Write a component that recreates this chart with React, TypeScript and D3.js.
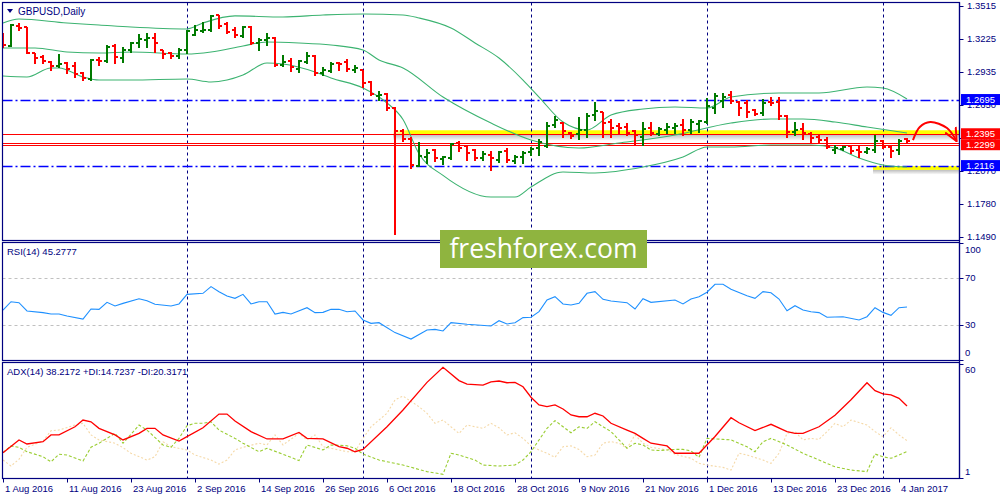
import React from "react";
import * as d3 from "d3";

// daily bars, 1 Aug 2016 .. 5 Jan 2017
const opens = [
  1.3270, 1.3165, 1.3340, 1.3331, 1.3103, 1.3068, 1.3024, 1.2989, 1.3015, 1.2989,
  1.2928, 1.2875, 1.3042, 1.3033, 1.3165, 1.3059, 1.3129, 1.3191, 1.3217, 1.3235,
  1.3129, 1.3103, 1.3077, 1.3129, 1.3261, 1.3296, 1.3305, 1.3436, 1.3358, 1.3305,
  1.3252, 1.3331, 1.3191, 1.3217, 1.3235, 1.2998, 1.3033, 1.2963, 1.3024, 1.3077,
  1.2928, 1.2945, 1.3015, 1.3024, 1.2954, 1.2954, 1.2849, 1.2726, 1.2744, 1.2621,
  1.2419, 1.2349, 1.2112, 1.2191, 1.2252, 1.2174, 1.2182, 1.2314, 1.2288, 1.2252,
  1.2182, 1.2209, 1.2165, 1.2244, 1.2156, 1.2191, 1.2235, 1.2270, 1.2288, 1.2472,
  1.2489, 1.2402, 1.2393, 1.2428, 1.2559, 1.2586, 1.2498, 1.2463, 1.2454, 1.2419,
  1.2367, 1.2445, 1.2393, 1.2428, 1.2445, 1.2472, 1.2428, 1.2481, 1.2498, 1.2621,
  1.2682, 1.2735, 1.2673, 1.2665, 1.2603, 1.2577, 1.2673, 1.2673, 1.2551, 1.2410,
  1.2437, 1.2393, 1.2367, 1.2340, 1.2252, 1.2261, 1.2288, 1.2252, 1.2235, 1.2252,
  1.2331, 1.2279, 1.2252, 1.2349,
];
const highs = [
  1.3279, 1.3358, 1.3366, 1.3331, 1.3103, 1.3086, 1.3033, 1.3094, 1.3024, 1.3024,
  1.2937, 1.3051, 1.3068, 1.3173, 1.3182, 1.3156, 1.3200, 1.3270, 1.3279, 1.3279,
  1.3129, 1.3112, 1.3147, 1.3305, 1.3349, 1.3375, 1.3436, 1.3436, 1.3375, 1.3331,
  1.3340, 1.3340, 1.3235, 1.3279, 1.3244, 1.3086, 1.3059, 1.3042, 1.3112, 1.3086,
  1.2980, 1.3024, 1.3024, 1.3051, 1.2998, 1.2954, 1.2858, 1.2770, 1.2752, 1.2630,
  1.2437, 1.2367, 1.2323, 1.2261, 1.2261, 1.2200, 1.2314, 1.2331, 1.2296, 1.2261,
  1.2244, 1.2244, 1.2244, 1.2270, 1.2209, 1.2244, 1.2279, 1.2349, 1.2498, 1.2551,
  1.2498, 1.2410, 1.2542, 1.2577, 1.2673, 1.2586, 1.2524, 1.2489, 1.2489, 1.2428,
  1.2498, 1.2498, 1.2454, 1.2489, 1.2489, 1.2524, 1.2524, 1.2516, 1.2709, 1.2752,
  1.2752, 1.2770, 1.2682, 1.2691, 1.2612, 1.2700, 1.2717, 1.2717, 1.2559, 1.2498,
  1.2489, 1.2410, 1.2384, 1.2367, 1.2296, 1.2288, 1.2296, 1.2288, 1.2279, 1.2384,
  1.2340, 1.2296, 1.2349, 1.2358,
];
const lows = [
  1.3156, 1.3165, 1.3305, 1.3103, 1.3015, 1.3015, 1.2954, 1.2980, 1.2928, 1.2893,
  1.2866, 1.2866, 1.2998, 1.3024, 1.3015, 1.3024, 1.3112, 1.3156, 1.3156, 1.3112,
  1.3059, 1.3059, 1.3059, 1.3103, 1.3261, 1.3287, 1.3296, 1.3322, 1.3279, 1.3244,
  1.3244, 1.3182, 1.3129, 1.3173, 1.2989, 1.2989, 1.2945, 1.2937, 1.3015, 1.2910,
  1.2910, 1.2937, 1.2954, 1.2945, 1.2937, 1.2805, 1.2735, 1.2691, 1.2603, 1.1520,
  1.2331, 1.2095, 1.2112, 1.2138, 1.2156, 1.2130, 1.2174, 1.2244, 1.2165, 1.2165,
  1.2165, 1.2077, 1.2147, 1.2147, 1.2138, 1.2138, 1.2209, 1.2209, 1.2279, 1.2454,
  1.2367, 1.2358, 1.2349, 1.2367, 1.2516, 1.2367, 1.2367, 1.2393, 1.2384, 1.2296,
  1.2296, 1.2384, 1.2384, 1.2402, 1.2402, 1.2384, 1.2402, 1.2410, 1.2489, 1.2577,
  1.2630, 1.2665, 1.2559, 1.2542, 1.2559, 1.2559, 1.2647, 1.2524, 1.2367, 1.2384,
  1.2349, 1.2314, 1.2314, 1.2270, 1.2226, 1.2252, 1.2226, 1.2191, 1.2226, 1.2235,
  1.2270, 1.2191, 1.2217, 1.2323,
];
const closes = [
  1.3173, 1.3349, 1.3322, 1.3103, 1.3059, 1.3033, 1.2989, 1.3007, 1.2963, 1.2919,
  1.2884, 1.3042, 1.3033, 1.3156, 1.3068, 1.3129, 1.3191, 1.3226, 1.3235, 1.3191,
  1.3094, 1.3077, 1.3129, 1.3296, 1.3305, 1.3305, 1.3428, 1.3340, 1.3287, 1.3261,
  1.3331, 1.3191, 1.3217, 1.3235, 1.2998, 1.3024, 1.2980, 1.3033, 1.3077, 1.2928,
  1.2954, 1.3007, 1.3007, 1.2963, 1.2972, 1.2840, 1.2744, 1.2735, 1.2621, 1.2419,
  1.2349, 1.2121, 1.2200, 1.2226, 1.2182, 1.2191, 1.2305, 1.2270, 1.2226, 1.2182,
  1.2217, 1.2182, 1.2235, 1.2165, 1.2191, 1.2226, 1.2261, 1.2323, 1.2463, 1.2516,
  1.2419, 1.2375, 1.2428, 1.2551, 1.2595, 1.2489, 1.2445, 1.2445, 1.2402, 1.2384,
  1.2437, 1.2402, 1.2437, 1.2454, 1.2463, 1.2428, 1.2498, 1.2507, 1.2638, 1.2726,
  1.2717, 1.2682, 1.2621, 1.2586, 1.2568, 1.2665, 1.2665, 1.2551, 1.2410, 1.2428,
  1.2402, 1.2358, 1.2340, 1.2279, 1.2270, 1.2279, 1.2244, 1.2235, 1.2261, 1.2331,
  1.2279, 1.2244, 1.2331, 1.2331,
];

// bollinger bands (20), read as [bar, price]
const bbUpper: [number, number][] = [
  [0, 1.3366], [2, 1.3401], [8, 1.3366], [12, 1.3349], [16, 1.3331], [23, 1.3314],
  [25, 1.3366], [29, 1.3428], [35, 1.3419], [40, 1.3436], [45, 1.3445], [50, 1.3436],
  [52, 1.3410], [56, 1.3322], [59, 1.3191], [62, 1.3059], [65, 1.2866], [67, 1.2717],
  [70, 1.2498], [73, 1.2428], [76, 1.2559], [80, 1.2612], [84, 1.2630], [88, 1.2621],
  [91, 1.2717], [97, 1.2752], [102, 1.2752], [108, 1.2805], [110, 1.2796], [113, 1.2700],
];
const bbMiddle: [number, number][] = [
  [0, 1.3147], [4, 1.3147], [8, 1.3112], [12, 1.3103], [16, 1.3112], [23, 1.3094],
  [26, 1.3112], [30, 1.3165], [33, 1.3200], [37, 1.3191], [41, 1.3173], [45, 1.3129],
  [47, 1.3042], [50, 1.2972], [55, 1.2717], [61, 1.2489], [66, 1.2340], [72, 1.2270],
  [77, 1.2314], [84, 1.2384], [91, 1.2489], [96, 1.2524], [100, 1.2524], [104, 1.2498],
  [108, 1.2454], [113, 1.2402],
];
const bbLower: [number, number][] = [
  [0, 1.2901], [3, 1.2893], [6, 1.2972], [7, 1.2972], [10, 1.2893], [12, 1.2866],
  [16, 1.2866], [23, 1.2875], [26, 1.2849], [28, 1.2866], [30, 1.2910], [33, 1.3015],
  [35, 1.3007], [39, 1.2937], [41, 1.2884], [45, 1.2796], [48, 1.2665], [50, 1.2520],
  [52, 1.2220], [55, 1.2030], [61, 1.1840], [64, 1.1840], [66, 1.1928], [70, 1.2060],
  [74, 1.2051], [80, 1.2103], [85, 1.2191], [88, 1.2279], [91, 1.2279], [96, 1.2296],
  [101, 1.2296], [104, 1.2270], [107, 1.2182], [110, 1.2121], [113, 1.2103],
];

const rsiPoints: [number, number][] = [
  [0, 42.7], [1, 49.8], [2, 49.0], [3, 41.9], [5, 40.5], [6, 39.3], [7, 39.3], [8, 37.6],
  [10, 35.0], [11, 43.6], [12, 43.3], [13, 49.3], [14, 46.2], [15, 48.4], [17, 52.3],
  [18, 50.7], [19, 47.6], [21, 46.2], [22, 47.9], [23, 56.1], [25, 57.0], [26, 62.7],
  [27, 58.4], [28, 54.7], [29, 52.7], [30, 56.1], [31, 47.9], [32, 49.8], [33, 49.8],
  [34, 39.3], [35, 40.7], [36, 39.3], [38, 44.7], [39, 40.5], [40, 40.7], [41, 43.3],
  [42, 43.3], [43, 41.3], [44, 41.9], [45, 34.2], [46, 31.3], [47, 31.9], [49, 23.4],
  [51, 17.9], [53, 25.6], [54, 26.2], [55, 24.8], [56, 31.9], [58, 30.5], [61, 29.1],
  [62, 33.6], [63, 30.8], [64, 31.9], [65, 36.2], [66, 36.5], [67, 41.3], [68, 51.3],
  [69, 54.1], [70, 47.9], [71, 47.0], [72, 48.4], [73, 57.0], [74, 58.4], [75, 51.9],
  [76, 50.4], [78, 49.0], [79, 43.6], [80, 52.4], [81, 49.3], [84, 51.3], [85, 47.9],
  [86, 52.1], [87, 54.1], [88, 57.9], [89, 64.7], [90, 64.7], [91, 60.4], [93, 55.0],
  [94, 52.7], [95, 58.4], [96, 57.5], [97, 52.1], [98, 42.1], [99, 46.4], [100, 42.7],
  [101, 41.3], [102, 40.5], [103, 36.5], [105, 37.0], [107, 34.2], [108, 37.0],
  [109, 44.7], [110, 40.7], [111, 38.2], [112, 44.7], [113, 45.28],
];

const adxPoints: [number, number][] = [
  [0, 14.1], [2, 20.7], [3, 18.6], [5, 19.8], [6, 23.3], [7, 23.3], [9, 27.5], [10, 31.0],
  [11, 30.1], [12, 26.7], [14, 23.3], [15, 20.7], [17, 24.1], [18, 26.7], [19, 26.7],
  [20, 23.3], [22, 20.1], [23, 22.4], [25, 27.0], [27, 34.1], [28, 34.1], [29, 30.5],
  [31, 25.0], [33, 21.2], [35, 21.2], [37, 24.6], [38, 21.5], [40, 21.2], [42, 17.2],
  [43, 16.4], [44, 14.6], [45, 15.8], [48, 27.5], [50, 36.2], [53, 50.5], [55, 58.3],
  [57, 51.4], [58, 49.6], [60, 49.1], [61, 50.7], [62, 51.2], [63, 50.3], [64, 50.5],
  [65, 48.2], [66, 42.8], [67, 38.8], [68, 37.9], [69, 38.8], [70, 36.7], [71, 33.6],
  [72, 32.7], [73, 32.7], [74, 34.5], [75, 33.1], [76, 29.3], [78, 25.8], [79, 24.1],
  [80, 21.5], [81, 19.0], [83, 17.6], [84, 13.8], [87, 13.8], [89, 22.5], [91, 32.2],
  [92, 29.6], [94, 25.5], [96, 28.8], [98, 25.0], [99, 24.1], [100, 24.1], [102, 27.5],
  [104, 33.5], [106, 41.5], [108, 50.3], [109, 46.2], [110, 44.5], [111, 44.0],
  [112, 42.2], [113, 38.22],
];
const plusDiPoints: [number, number][] = [
  [0, 14.1], [1, 17.6], [2, 16.9], [3, 14.6], [5, 12.0], [6, 9.4], [7, 13.3], [8, 12.9],
  [10, 9.8], [11, 16.9], [12, 19.0], [14, 24.1], [15, 19.0], [17, 28.4], [18, 25.8],
  [20, 18.1], [21, 16.9], [22, 21.5], [23, 28.1], [24, 29.3], [25, 29.3], [26, 30.1],
  [27, 25.8], [29, 21.5], [30, 19.0], [32, 14.6], [33, 16.4], [35, 13.3], [37, 10.0],
  [38, 18.1], [40, 15.5], [41, 18.1], [43, 17.7], [44, 16.4], [45, 13.4], [47, 10.3],
  [50, 7.7], [53, 4.3], [55, 2.9], [56, 13.8], [57, 12.9], [59, 10.3], [60, 7.7],
  [62, 7.2], [64, 7.7], [65, 10.3], [66, 14.6], [67, 20.7], [68, 26.7], [69, 30.7],
  [71, 24.4], [72, 27.5], [73, 26.7], [74, 30.1], [76, 25.0], [77, 20.7], [78, 16.4],
  [79, 19.0], [80, 18.1], [81, 15.5], [82, 15.2], [84, 15.8], [85, 15.8], [86, 15.0],
  [87, 11.7], [88, 21.5], [90, 21.0], [91, 20.7], [93, 17.2], [94, 14.6], [95, 19.8],
  [96, 21.5], [98, 18.1], [100, 13.8], [102, 10.3], [104, 6.8], [106, 5.1], [108, 4.3],
  [109, 13.4], [110, 12.0], [111, 11.2], [112, 12.9], [113, 14.72],
];
const minusDiPoints: [number, number][] = [
  [0, 10.3], [1, 7.2], [2, 10.7], [3, 16.9], [5, 20.1], [6, 25.5], [7, 25.8], [9, 28.4],
  [10, 29.3], [11, 23.3], [12, 20.7], [14, 19.0], [15, 16.7], [16, 13.8], [18, 10.3],
  [19, 12.0], [20, 19.8], [21, 17.2], [23, 15.5], [24, 12.9], [26, 10.3], [27, 8.2],
  [28, 10.3], [29, 15.5], [30, 16.9], [32, 19.0], [33, 18.1], [34, 23.3], [35, 18.1],
  [37, 24.1], [38, 20.7], [39, 23.3], [40, 17.2], [42, 15.5], [43, 14.6], [44, 14.6],
  [45, 21.5], [46, 27.5], [47, 31.0], [48, 34.5], [49, 41.4], [50, 43.4], [52, 37.9],
  [53, 34.5], [54, 29.3], [55, 31.0], [56, 27.5], [57, 24.1], [58, 28.4], [60, 26.7],
  [61, 29.3], [62, 27.0], [63, 23.3], [64, 24.4], [65, 21.5], [66, 17.6], [67, 15.5],
  [68, 13.8], [69, 11.7], [70, 17.2], [71, 17.6], [72, 15.8], [73, 12.0], [74, 12.9],
  [75, 19.0], [76, 19.8], [77, 19.0], [78, 16.4], [79, 23.3], [80, 19.0], [81, 16.9],
  [83, 15.5], [84, 13.3], [86, 11.2], [87, 8.6], [88, 7.7], [90, 6.5], [91, 5.1],
  [92, 13.8], [93, 12.9], [95, 10.3], [96, 8.6], [97, 13.8], [98, 24.1], [99, 25.0],
  [100, 20.7], [101, 21.5], [102, 21.0], [103, 25.0], [104, 29.3], [105, 27.5],
  [106, 31.0], [108, 28.4], [109, 25.0], [110, 22.4], [111, 27.0], [112, 23.3],
  [113, 20.32],
];

const dateLabels = [
  "1 Aug 2016", "11 Aug 2016", "23 Aug 2016", "2 Sep 2016", "14 Sep 2016",
  "26 Sep 2016", "6 Oct 2016", "18 Oct 2016", "28 Oct 2016", "9 Nov 2016",
  "21 Nov 2016", "1 Dec 2016", "13 Dec 2016", "23 Dec 2016", "4 Jan 2017",
];
const dateLabelBars = [0, 8, 16, 24, 32, 40, 48, 56, 64, 72, 80, 88, 96, 104, 112];
const separatorBars = [23, 45, 66, 88, 110];

const priceTicks = [1.3515, 1.3225, 1.2935, 1.265, 1.236, 1.207, 1.178, 1.149];
const rsiLevels = [70, 30];
const rsiTickLabels = ["100", "70", "30", "0"];
const adxTickLabels = ["60", "1"];

// drawn levels and their marker labels
const blueLevels = [1.2695, 1.2116];
const redLevels = [1.2395, 1.2299];
const arrowPoints: [number, number][] = [
  [113.75, 1.2340], [114.6, 1.2454], [115.9, 1.2498], [118, 1.2445], [119.2, 1.2330],
];

const NAVY = "#000080";
const FONT = "'Liberation Sans', Arial, sans-serif";

export default function App() {
  const left = 2.5;
  const right = 959.5;
  const mainTop = 2.5, mainBottom = 240.5;
  const rsiTop = 242.5, rsiBottom = 360.5;
  const adxTop = 362.5, adxBottom = 478.5;

  const x = d3.scaleLinear().domain([0, 113]).range([3, 907]);
  const y = d3.scaleLinear().domain([1.149, 1.3515]).range([237, 6]);
  const yR = d3.scaleLinear().domain([0, 100]).range([360, 243]);
  const yA = d3.scaleLinear().domain([1, 60]).range([478, 364]);

  const band = d3.line<[number, number]>()
    .x((d) => x(d[0]))
    .y((d) => y(d[1]))
    .curve(d3.curveMonotoneX);
  const rsiLine = d3.line<[number, number]>().x((d) => x(d[0])).y((d) => yR(d[1]));
  const adxLine = d3.line<[number, number]>().x((d) => x(d[0])).y((d) => yA(d[1]));
  const arrowLine = d3.line<[number, number]>()
    .x((d) => x(d[0]))
    .y((d) => y(d[1]))
    .curve(d3.curveCatmullRom);

  const px = (i: number) => Math.round(x(i));
  const yr = Math.round(y(redLevels[1]));

  return (
    <svg
      width={1000}
      height={500}
      style={{ position: "absolute", left: 0, top: 0, background: "#fff" }}
      fontFamily={FONT}
    >
      <defs>
        <clipPath id="mainClip">
          <rect x={left} y={mainTop} width={right - left} height={mainBottom - mainTop} />
        </clipPath>
        <linearGradient id="shadow" x1="0" y1="0" x2="0" y2="1">
          <stop offset="0" stopColor="#000" stopOpacity={0.28} />
          <stop offset="1" stopColor="#000" stopOpacity={0} />
        </linearGradient>
        <linearGradient id="yellowFade" x1="0" y1="0" x2="1" y2="0">
          <stop offset="0" stopColor="#ffff00" stopOpacity={0.2} />
          <stop offset="0.03" stopColor="#ffff00" stopOpacity={1} />
          <stop offset="1" stopColor="#ffff00" stopOpacity={1} />
        </linearGradient>
        <marker id="arrowHead" viewBox="0 -7 14 14" refX={13} refY={0}
          markerWidth={14} markerHeight={14} markerUnits="userSpaceOnUse" orient="auto">
          <path d="M0,-6L13,0L0,6" fill="none" stroke="#ff0000" strokeWidth={2} />
        </marker>
      </defs>

      <rect x={0} y={0} width={1000} height={500} fill="#fff" />

      {/* highlighted zones */}
      <g clipPath="url(#mainClip)">
        <rect x={x(48.75)} y={y(1.2395)} width={right - x(48.75)} height={7} fill="url(#shadow)" />
        <rect x={x(48.75)} y={y(1.2395) - 3.5} width={right - x(48.75)} height={3.8} fill="url(#yellowFade)" />
        <rect x={x(108.75)} y={y(1.2116) + 4} width={right - x(108.75)} height={5} fill="url(#shadow)" />
        <rect x={x(108.75)} y={y(1.2116) + 0.5} width={right - x(108.75)} height={3.8} fill="#ffff00" />
      </g>

      {/* period separators */}
      {separatorBars.map((b) => (
        <line key={b} x1={px(b) + 0.5} x2={px(b) + 0.5} y1={mainTop} y2={adxBottom}
          stroke={NAVY} strokeDasharray="3,3" />
      ))}

      {/* horizontal levels */}
      {blueLevels.map((v) => (
        <line key={v} x1={left} x2={right} y1={Math.round(y(v)) + 0.5} y2={Math.round(y(v)) + 0.5}
          stroke="#0000ff" strokeWidth={1.4} strokeDasharray="10,3,2,3" />
      ))}
      <line x1={left} x2={right} y1={Math.round(y(redLevels[0])) + 0.5} y2={Math.round(y(redLevels[0])) + 0.5}
        stroke="#ff0000" />
      <line x1={left} x2={right} y1={yr - 1.5} y2={yr - 1.5} stroke="#ff0000" />
      <line x1={left} x2={right} y1={yr + 0.5} y2={yr + 0.5} stroke="#ff0000" />

      {/* bollinger bands */}
      <g fill="none" stroke="#3cb371" strokeWidth={1.1} clipPath="url(#mainClip)">
        <path d={band(bbUpper) ?? ""} />
        <path d={band(bbMiddle) ?? ""} />
        <path d={band(bbLower) ?? ""} />
      </g>

      {/* OHLC bars */}
      <g clipPath="url(#mainClip)" strokeWidth={2}>
        {opens.map((o, i) => {
          const c = closes[i];
          const col = c >= o ? "#007a00" : "#ff0000";
          const cx = px(i);
          return (
            <g key={i} stroke={col}>
              <line x1={cx} x2={cx} y1={Math.round(y(highs[i]))} y2={Math.round(y(lows[i])) + 1} />
              <line x1={cx - 3} x2={cx} y1={Math.round(y(o))} y2={Math.round(y(o))} />
              <line x1={cx} x2={cx + 3} y1={Math.round(y(c))} y2={Math.round(y(c))} />
            </g>
          );
        })}
      </g>

      {/* forecast arrow */}
      <path d={arrowLine(arrowPoints) ?? ""} fill="none" stroke="#ff0000" strokeWidth={2}
        markerEnd="url(#arrowHead)" />

      {/* RSI */}
      {rsiLevels.map((v) => (
        <line key={v} x1={left} x2={right} y1={Math.round(yR(v)) + 0.5} y2={Math.round(yR(v)) + 0.5}
          stroke="#c0c0c0" strokeDasharray="3,3" />
      ))}
      <path d={rsiLine(rsiPoints) ?? ""} fill="none" stroke="#1e90ff" strokeWidth={1.1} />

      {/* ADX */}
      <path d={adxLine(minusDiPoints) ?? ""} fill="none" stroke="#f5d9a8" strokeWidth={1.1} strokeDasharray="2,2" />
      <path d={adxLine(plusDiPoints) ?? ""} fill="none" stroke="#9acd32" strokeWidth={1.1} strokeDasharray="3,2" />
      <path d={adxLine(adxPoints) ?? ""} fill="none" stroke="#ff0000" strokeWidth={1.3} />

      {/* panel frames */}
      <g fill="none" stroke={NAVY} strokeWidth={1.2}>
        <rect x={left} y={mainTop} width={right - left} height={mainBottom - mainTop} />
        <rect x={left} y={rsiTop} width={right - left} height={rsiBottom - rsiTop} />
        <rect x={left} y={adxTop} width={right - left} height={adxBottom - adxTop} />
        <line x1={right} x2={right} y1={mainTop} y2={adxBottom} />
      </g>

      {/* price axis */}
      <g fontSize={9.5} fill={NAVY}>
        {priceTicks.map((v) => (
          <g key={v}>
            <line x1={right} x2={right + 4} y1={Math.round(y(v)) + 0.5} y2={Math.round(y(v)) + 0.5} stroke={NAVY} />
            <text x={967} y={y(v)} dy="0.35em">{v.toFixed(4)}</text>
          </g>
        ))}
        {[100, 70, 30, 0].map((v, k) => (
          <g key={v}>
            <line x1={right} x2={right + 4} y1={Math.round(yR(v)) + 0.5} y2={Math.round(yR(v)) + 0.5} stroke={NAVY} />
            <text x={965} y={yR(v) + (v === 100 ? 7 : v === 0 ? -7 : 0)} dy="0.35em">{rsiTickLabels[k]}</text>
          </g>
        ))}
        {[60, 1].map((v, k) => (
          <g key={v}>
            <line x1={right} x2={right + 4} y1={Math.round(yA(v)) + 0.5} y2={Math.round(yA(v)) + 0.5} stroke={NAVY} />
            <text x={965} y={yA(v) + (v === 60 ? 6 : -6)} dy="0.35em">{adxTickLabels[k]}</text>
          </g>
        ))}
      </g>

      {/* level labels */}
      <g fontSize={9.5}>
        {blueLevels.map((v) => (
          <g key={v}>
            <rect x={961} y={y(v) - 5.5} width={39} height={11} fill="#0000ff" />
            <text x={966} y={y(v)} dy="0.35em" fill="#fff">{v.toFixed(4)}</text>
          </g>
        ))}
        {redLevels.map((v) => (
          <g key={v}>
            <rect x={961} y={y(v) - 5.5} width={39} height={11} fill="#ff0000" />
            <text x={966} y={y(v)} dy="0.35em" fill="#fff">{v.toFixed(4)}</text>
          </g>
        ))}
      </g>

      {/* date axis */}
      <g fontSize={9.5} fill={NAVY}>
        {dateLabelBars.map((b, k) => (
          <g key={b}>
            <line x1={px(b) + 0.5} x2={px(b) + 0.5} y1={adxBottom} y2={adxBottom + 4} stroke={NAVY} />
            <text x={px(b) + 2} y={492}>{dateLabels[k]}</text>
          </g>
        ))}
      </g>

      {/* window captions */}
      <path d="M7,9L13,9L10,13Z" fill={NAVY} />
      <text x={18} y={14.5} fontSize={10} fill={NAVY}>GBPUSD,Daily</text>
      <text x={7} y={254.5} fontSize={9.5} fill={NAVY}>RSI(14) 45.2777</text>
      <text x={7} y={375} fontSize={9.5} fill={NAVY}>ADX(14) 38.2172 +DI:14.7237 -DI:20.3171</text>

      {/* watermark */}
      <rect x={440} y={230} width={207} height={38} fill="#8fb43f" />
      <text x={543.5} y={258} textAnchor="middle" fontSize={26.5} fill="#fff"
        fontFamily="'Open Sans', 'Noto Sans', sans-serif">freshforex.com</text>
    </svg>
  );
}
